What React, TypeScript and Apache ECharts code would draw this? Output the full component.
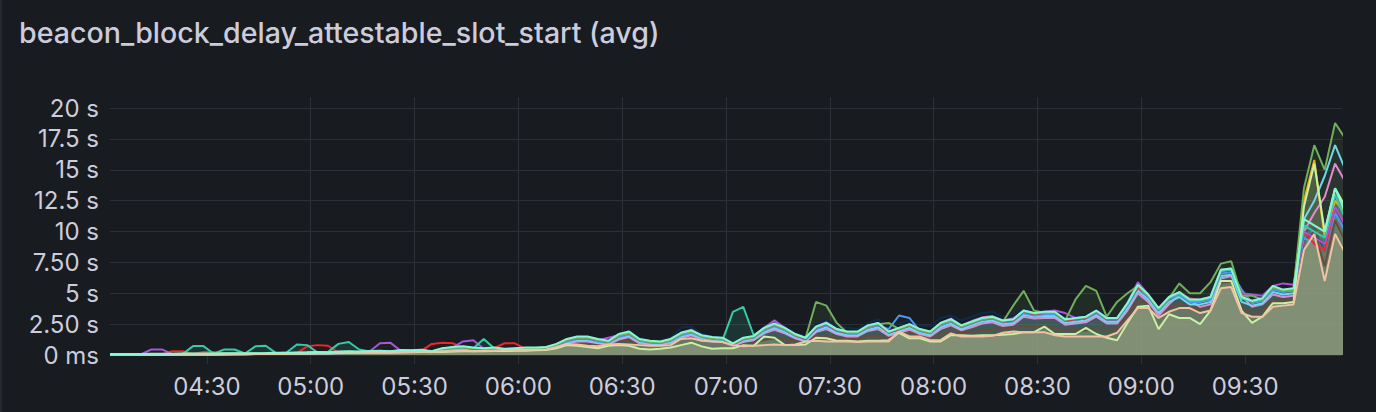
import React, { useEffect, useRef } from 'react';
import * as echarts from 'echarts';

const TITLE = 'beacon_block_delay_attestable_slot_start (avg)';
const START_TIME = '04:02';
const END_TIME = '09:58';
const STEP_MINUTES = 3;
const xTickLabels = ['04:30', '05:00', '05:30', '06:00', '06:30', '07:00', '07:30', '08:00', '08:30', '09:00', '09:30'];
const yTickValues = [0, 2.5, 5, 7.5, 10, 12.5, 15, 17.5, 20];
const yTickLabels = ['0 ms', '2.50 s', '5 s', '7.50 s', '10 s', '12.5 s', '15 s', '17.5 s', '20 s'];
const Y_MAX = 20.9;

const mint = [
  0.08, 0.08, 0.08, 0.08, 0.10, 0.10, 0.10, 0.12, 0.12, 0.12,
  0.12, 0.14, 0.14, 0.15, 0.15, 0.16, 0.18, 0.18, 0.20, 0.22,
  0.25, 0.22, 0.28, 0.30, 0.28, 0.32, 0.35, 0.30, 0.40, 0.38,
  0.42, 0.30, 0.55, 0.65, 0.70, 0.60, 0.55, 0.60, 0.50, 0.55,
  0.60, 0.60, 0.65, 0.90, 1.30, 1.50, 1.50, 1.30, 1.15, 1.70,
  1.90, 1.30, 1.15, 1.10, 1.30, 1.80, 2.00, 1.60, 1.45, 1.40,
  0.95, 1.40, 1.55, 2.20, 2.55, 2.20, 1.70, 1.40, 2.30, 2.60,
  2.10, 1.90, 1.90, 2.40, 2.60, 1.90, 2.20, 2.50, 2.10, 1.90,
  2.60, 2.90, 2.40, 2.70, 3.00, 3.10, 2.80, 2.90, 3.60, 3.40,
  3.50, 3.50, 2.90, 3.00, 3.10, 3.60, 3.00, 3.00, 4.20, 5.70,
  4.90, 3.80, 4.70, 5.10, 4.50, 4.50, 4.70, 6.90, 7.00, 4.70,
  4.40, 4.60, 5.60, 5.30, 5.40, 11.0, 10.5, 10.0, 13.5, 11.5,
];

const peach = [
  0.02, 0.02, 0.02, 0.02, 0.03, 0.03, 0.03, 0.04, 0.04, 0.04,
  0.05, 0.05, 0.06, 0.06, 0.08, 0.08, 0.10, 0.10, 0.12, 0.12,
  0.15, 0.15, 0.18, 0.20, 0.20, 0.22, 0.25, 0.20, 0.25, 0.25,
  0.28, 0.25, 0.30, 0.30, 0.35, 0.30, 0.35, 0.35, 0.40, 0.40,
  0.40, 0.42, 0.45, 0.65, 0.90, 0.85, 0.75, 0.70, 0.85, 0.90,
  0.85, 0.80, 0.75, 0.75, 0.80, 1.30, 1.35, 1.15, 1.10, 1.05,
  0.80, 0.70, 0.75, 0.80, 0.85, 0.80, 0.85, 1.10, 1.15, 1.10,
  1.10, 1.10, 1.05, 1.10, 1.10, 1.10, 1.90, 1.50, 1.50, 1.20,
  1.20, 1.75, 1.50, 1.50, 1.50, 1.55, 1.80, 1.90, 1.85, 1.85,
  1.85, 1.60, 1.50, 1.50, 1.50, 1.50, 1.50, 1.80, 2.80, 3.80,
  3.80, 3.00, 3.50, 3.80, 3.80, 3.40, 3.60, 5.40, 5.50, 3.40,
  3.10, 3.10, 3.90, 4.00, 4.10, 8.50, 9.80, 6.00, 9.80, 8.20,
];

const lightGreen = [
  0.02, 0.02, 0.02, 0.03, 0.03, 0.03, 0.04, 0.04, 0.05, 0.05,
  0.05, 0.06, 0.06, 0.07, 0.08, 0.08, 0.10, 0.10, 0.12, 0.12,
  0.14, 0.15, 0.16, 0.18, 0.20, 0.20, 0.22, 0.20, 0.20, 0.22,
  0.25, 0.25, 0.25, 0.28, 0.30, 0.30, 0.30, 0.32, 0.32, 0.35,
  0.35, 0.38, 0.40, 0.55, 0.80, 0.75, 0.65, 0.55, 0.75, 0.80,
  0.75, 0.50, 0.45, 0.50, 0.60, 0.80, 1.00, 0.70, 0.50, 0.55,
  0.55, 0.80, 0.75, 1.50, 1.40, 0.80, 0.80, 0.85, 1.40, 1.35,
  1.15, 1.15, 1.10, 1.15, 1.15, 1.20, 1.80, 1.35, 1.35, 1.10,
  1.10, 1.60, 1.60, 1.55, 1.60, 1.60, 1.65, 1.70, 1.85, 1.85,
  2.30, 1.70, 1.70, 1.70, 2.20, 1.70, 1.40, 1.20, 2.60, 3.90,
  4.00, 2.10, 3.30, 3.00, 3.00, 2.50, 3.60, 6.00, 6.00, 3.60,
  2.60, 3.10, 4.20, 4.20, 4.30, 12.0, 15.5, 10.0, 13.5, 12.0,
];

const green = [
  0.06, 0.06, 0.07, 0.07, 0.08, 0.08, 0.09, 0.10, 0.10, 0.10,
  0.11, 0.12, 0.12, 0.13, 0.14, 0.14, 0.15, 0.16, 0.18, 0.20,
  0.22, 0.20, 0.24, 0.26, 0.25, 0.28, 0.30, 0.28, 0.35, 0.34,
  0.38, 0.28, 0.50, 0.60, 0.62, 0.55, 0.50, 0.55, 0.45, 0.50,
  0.55, 0.55, 0.60, 0.85, 1.20, 1.40, 1.40, 1.20, 1.05, 1.55,
  1.75, 1.20, 1.05, 1.00, 1.20, 1.70, 1.90, 1.50, 1.35, 1.30,
  0.90, 1.30, 1.45, 2.10, 2.45, 2.10, 1.60, 1.40, 4.30, 4.00,
  2.60, 1.80, 1.80, 2.30, 2.50, 2.60, 2.10, 2.40, 2.00, 1.80,
  2.50, 2.80, 2.30, 2.60, 2.90, 3.00, 2.70, 4.00, 5.20, 3.60,
  3.40, 3.40, 2.80, 4.50, 5.60, 5.20, 3.10, 4.30, 5.00, 5.60,
  4.80, 3.70, 4.60, 5.80, 5.00, 5.00, 5.90, 7.40, 7.60, 4.80,
  4.80, 4.50, 5.50, 5.20, 5.30, 13.5, 17.0, 15.0, 18.8, 17.5,
];

const teal = [
  0.05, 0.05, 0.05, 0.06, 0.06, 0.06, 0.07, 0.08, 0.72, 0.72,
  0.10, 0.45, 0.45, 0.12, 0.70, 0.75, 0.15, 0.20, 0.85, 0.80,
  0.20, 0.25, 0.90, 1.05, 0.45, 0.28, 0.30, 0.28, 0.35, 0.34,
  0.38, 0.28, 0.50, 0.60, 0.62, 0.55, 1.30, 0.55, 0.45, 0.50,
  0.55, 0.55, 0.60, 0.85, 1.25, 1.45, 1.45, 1.25, 1.10, 1.65,
  1.85, 1.25, 1.10, 1.05, 1.25, 1.75, 1.95, 1.55, 1.40, 1.20,
  3.50, 3.90, 1.60, 2.15, 2.50, 2.15, 1.65, 1.35, 2.25, 2.55,
  2.05, 1.85, 1.85, 2.35, 2.55, 1.85, 2.15, 2.45, 2.05, 1.85,
  2.55, 2.85, 2.35, 2.65, 2.95, 3.05, 2.75, 2.85, 3.55, 3.35,
  3.45, 3.45, 2.85, 2.95, 3.05, 3.55, 2.95, 2.95, 4.10, 5.60,
  4.80, 3.70, 4.60, 5.00, 4.40, 4.40, 4.60, 6.80, 6.90, 4.60,
  4.30, 4.50, 5.50, 5.20, 5.30, 10.5, 10.0, 9.5, 13.0, 11.0,
];

const purple = [
  0.05, 0.05, 0.05, 0.06, 0.45, 0.45, 0.07, 0.08, 0.08, 0.09,
  0.10, 0.10, 0.11, 0.12, 0.12, 0.13, 0.14, 0.15, 0.16, 0.18,
  0.20, 0.20, 0.22, 0.25, 0.25, 0.28, 0.95, 1.00, 0.35, 0.34,
  0.38, 0.28, 0.50, 0.60, 1.10, 1.20, 0.50, 0.55, 0.45, 0.50,
  0.55, 0.55, 0.60, 0.80, 1.20, 1.40, 1.40, 1.20, 1.40, 1.60,
  1.80, 1.25, 1.10, 1.05, 1.25, 1.80, 2.05, 1.55, 1.40, 1.30,
  0.90, 1.35, 1.50, 2.20, 2.80, 2.20, 1.65, 1.35, 2.30, 2.65,
  2.10, 1.85, 1.85, 2.40, 2.60, 1.85, 2.20, 2.50, 2.10, 1.85,
  2.60, 2.95, 2.40, 2.75, 3.05, 3.15, 2.80, 2.95, 3.60, 3.40,
  3.50, 3.60, 3.40, 3.00, 3.10, 3.60, 3.00, 3.00, 4.20, 5.90,
  4.90, 3.80, 4.70, 5.10, 4.50, 4.50, 4.70, 6.90, 7.00, 5.00,
  4.90, 4.80, 5.60, 5.80, 5.70, 10.0, 9.5, 9.0, 12.0, 10.5,
];

const red = [
  0.04, 0.04, 0.05, 0.05, 0.06, 0.06, 0.30, 0.30, 0.08, 0.25,
  0.25, 0.10, 0.11, 0.12, 0.12, 0.13, 0.14, 0.15, 0.16, 0.70,
  0.80, 0.75, 0.22, 0.25, 0.25, 0.28, 0.30, 0.28, 0.30, 0.32,
  0.35, 0.90, 1.00, 0.95, 0.60, 0.50, 0.50, 0.55, 0.95, 0.95,
  0.50, 0.50, 0.55, 0.80, 1.20, 1.35, 1.35, 1.20, 1.05, 1.55,
  1.75, 1.20, 1.05, 1.00, 1.20, 1.75, 1.95, 1.50, 1.35, 1.25,
  0.85, 1.30, 1.45, 2.10, 2.45, 2.10, 1.60, 1.30, 2.20, 2.50,
  2.00, 1.80, 1.80, 2.30, 2.50, 1.80, 2.10, 2.40, 2.00, 1.80,
  2.50, 2.80, 2.30, 2.60, 2.90, 3.00, 2.70, 2.80, 3.50, 3.30,
  3.40, 3.40, 2.80, 2.90, 3.00, 3.50, 2.90, 2.90, 4.10, 5.50,
  4.80, 3.70, 4.60, 5.00, 4.60, 4.40, 4.60, 6.80, 6.90, 4.90,
  4.30, 4.50, 5.50, 5.20, 5.30, 10.0, 9.0, 8.5, 12.0, 10.5,
];

const blue = [
  0.04, 0.04, 0.04, 0.05, 0.05, 0.05, 0.06, 0.06, 0.07, 0.07,
  0.08, 0.08, 0.09, 0.10, 0.10, 0.11, 0.12, 0.12, 0.14, 0.15,
  0.18, 0.16, 0.20, 0.22, 0.22, 0.25, 0.28, 0.25, 0.32, 0.30,
  0.34, 0.26, 0.45, 0.55, 0.58, 0.50, 0.45, 0.50, 0.42, 0.45,
  0.50, 0.50, 0.55, 0.75, 1.10, 1.30, 1.30, 1.10, 1.00, 1.45,
  1.65, 1.15, 1.00, 0.95, 1.15, 1.60, 1.80, 1.45, 1.30, 1.20,
  0.85, 1.25, 1.40, 2.00, 2.35, 2.00, 1.55, 1.25, 2.10, 2.40,
  1.95, 1.75, 1.75, 2.20, 2.40, 2.10, 3.20, 3.00, 1.95, 1.75,
  2.40, 2.70, 2.25, 2.55, 2.85, 2.95, 2.65, 2.75, 3.40, 3.20,
  3.30, 3.30, 2.75, 2.85, 2.95, 3.40, 2.85, 2.85, 4.00, 5.40,
  4.70, 3.60, 4.50, 4.90, 4.30, 4.30, 4.50, 6.60, 6.70, 5.30,
  4.20, 4.40, 5.30, 5.10, 5.20, 9.5, 9.0, 8.5, 11.5, 10.0,
];

const sky = [
  0.03, 0.03, 0.04, 0.04, 0.04, 0.05, 0.05, 0.05, 0.06, 0.06,
  0.07, 0.07, 0.08, 0.08, 0.09, 0.10, 0.10, 0.11, 0.12, 0.13,
  0.15, 0.14, 0.17, 0.19, 0.19, 0.21, 0.24, 0.22, 0.28, 0.27,
  0.30, 0.24, 0.40, 0.50, 0.54, 0.46, 0.42, 0.46, 0.40, 0.42,
  0.46, 0.46, 0.50, 0.70, 1.00, 1.20, 1.20, 1.00, 0.92, 1.35,
  1.55, 1.05, 0.92, 0.88, 1.05, 1.50, 1.70, 1.35, 1.20, 1.12,
  0.80, 1.15, 1.30, 1.85, 2.20, 1.85, 1.45, 1.15, 1.95, 2.25,
  1.80, 1.60, 1.60, 2.05, 2.25, 1.65, 1.90, 2.20, 1.80, 1.60,
  2.25, 2.55, 2.10, 2.40, 2.70, 2.80, 2.50, 2.60, 3.25, 3.10,
  3.15, 3.15, 2.60, 2.70, 2.80, 3.25, 2.70, 2.70, 3.80, 5.20,
  4.50, 3.40, 4.30, 4.70, 4.10, 4.10, 4.30, 6.40, 6.50, 4.30,
  4.00, 4.20, 5.10, 4.90, 5.00, 11.0, 12.5, 14.5, 17.0, 15.0,
];

const pink = [
  0.03, 0.03, 0.03, 0.03, 0.04, 0.04, 0.04, 0.05, 0.05, 0.05,
  0.06, 0.06, 0.07, 0.07, 0.08, 0.08, 0.09, 0.10, 0.11, 0.12,
  0.13, 0.12, 0.15, 0.17, 0.17, 0.19, 0.21, 0.19, 0.25, 0.24,
  0.27, 0.22, 0.36, 0.45, 0.50, 0.42, 0.38, 0.42, 0.36, 0.38,
  0.42, 0.42, 0.46, 0.65, 0.95, 1.10, 1.10, 0.95, 0.85, 1.25,
  1.45, 0.95, 0.85, 0.82, 0.95, 1.40, 1.60, 1.25, 1.10, 1.05,
  0.75, 1.05, 1.20, 1.75, 2.05, 1.75, 1.35, 1.10, 1.85, 2.10,
  1.70, 1.50, 1.50, 1.95, 2.10, 1.55, 1.80, 2.05, 1.70, 1.50,
  2.10, 2.40, 2.00, 2.25, 2.55, 2.65, 2.35, 2.45, 3.10, 2.95,
  3.00, 3.00, 2.45, 2.55, 2.65, 3.10, 2.55, 2.55, 3.60, 5.00,
  4.30, 3.20, 4.10, 4.90, 4.40, 3.90, 4.10, 6.20, 6.40, 4.80,
  3.90, 4.10, 4.90, 4.70, 4.80, 10.0, 11.5, 12.8, 15.5, 14.0,
];

const yellow = [
  0.03, 0.03, 0.03, 0.03, 0.04, 0.04, 0.04, 0.05, 0.05, 0.05,
  0.05, 0.07, 0.07, 0.08, 0.08, 0.09, 0.11, 0.11, 0.13, 0.15,
  0.18, 0.15, 0.21, 0.23, 0.21, 0.25, 0.28, 0.23, 0.33, 0.31,
  0.35, 0.23, 0.48, 0.58, 0.63, 0.53, 0.48, 0.53, 0.43, 0.48,
  0.53, 0.53, 0.58, 0.83, 1.22, 1.42, 1.42, 1.22, 1.07, 1.62,
  1.82, 1.22, 1.07, 1.02, 1.22, 1.72, 1.92, 1.52, 1.37, 1.32,
  0.87, 1.32, 1.47, 2.12, 2.47, 2.12, 1.62, 1.32, 2.22, 2.52,
  2.02, 1.82, 1.82, 2.32, 2.52, 1.82, 2.12, 2.42, 2.02, 1.82,
  2.52, 2.82, 2.32, 2.62, 2.92, 3.02, 2.72, 2.82, 3.52, 3.32,
  3.42, 3.42, 2.82, 2.92, 3.02, 3.52, 2.92, 2.92, 4.12, 5.62,
  4.82, 3.72, 4.62, 5.02, 4.42, 4.42, 4.62, 6.82, 6.92, 4.62,
  4.32, 4.52, 5.52, 5.22, 5.32, 12.5, 15.8, 9.5, 12.5, 11.5,
];

const navy = [
  0.07, 0.07, 0.07, 0.07, 0.09, 0.09, 0.09, 0.11, 0.11, 0.11,
  0.11, 0.13, 0.13, 0.14, 0.14, 0.15, 0.17, 0.17, 0.19, 0.21,
  0.24, 0.21, 0.27, 0.29, 0.27, 0.31, 0.34, 0.29, 0.39, 0.37,
  0.41, 0.29, 0.54, 0.64, 0.69, 0.59, 0.54, 0.59, 0.49, 0.54,
  0.59, 0.59, 0.64, 0.89, 1.28, 1.48, 1.48, 1.28, 1.14, 1.75,
  1.95, 1.35, 1.20, 1.15, 1.40, 2.20, 2.30, 1.75, 1.50, 1.40,
  0.95, 1.45, 1.60, 2.30, 2.60, 2.30, 1.80, 1.50, 2.50, 2.80,
  2.40, 2.20, 2.10, 2.60, 2.90, 2.20, 2.60, 2.80, 2.40, 2.30,
  3.00, 3.20, 2.80, 3.10, 3.40, 3.50, 3.10, 3.20, 3.70, 3.50,
  3.60, 3.60, 3.00, 3.10, 3.20, 3.70, 3.10, 3.10, 4.20, 5.60,
  4.80, 3.70, 4.60, 5.00, 4.40, 4.40, 4.60, 6.80, 6.90, 4.60,
  4.30, 4.50, 5.50, 5.20, 5.30, 10.0, 9.5, 9.0, 12.0, 10.5,
];

const slate = [
  0.05, 0.05, 0.05, 0.06, 0.07, 0.07, 0.07, 0.09, 0.09, 0.09,
  0.09, 0.10, 0.11, 0.11, 0.12, 0.13, 0.15, 0.15, 0.17, 0.18,
  0.21, 0.19, 0.24, 0.26, 0.25, 0.28, 0.31, 0.26, 0.34, 0.33,
  0.36, 0.28, 0.45, 0.51, 0.56, 0.48, 0.47, 0.50, 0.46, 0.49,
  0.52, 0.53, 0.57, 0.80, 1.14, 1.24, 1.20, 1.06, 1.03, 1.38,
  1.48, 1.10, 0.99, 0.96, 1.10, 1.60, 1.74, 1.42, 1.31, 1.26,
  0.89, 1.12, 1.23, 1.64, 1.87, 1.64, 1.36, 1.28, 1.84, 2.00,
  1.70, 1.58, 1.56, 1.88, 2.00, 1.58, 2.08, 2.10, 1.86, 1.62,
  2.04, 2.44, 2.04, 2.22, 2.40, 2.48, 2.40, 2.50, 2.90, 2.78,
  2.84, 2.74, 2.34, 2.40, 2.46, 2.76, 2.40, 2.52, 3.64, 4.94,
  4.46, 3.48, 4.22, 4.58, 4.22, 4.06, 4.26, 6.30, 6.40, 4.18,
  3.88, 4.00, 4.92, 4.78, 4.88, 10.0, 10.2, 8.4, 12.0, 10.2,
];

const brown = [
  0.04, 0.04, 0.04, 0.04, 0.05, 0.05, 0.05, 0.06, 0.06, 0.06,
  0.07, 0.08, 0.08, 0.09, 0.10, 0.10, 0.12, 0.12, 0.14, 0.15,
  0.18, 0.17, 0.21, 0.23, 0.22, 0.25, 0.28, 0.23, 0.30, 0.29,
  0.32, 0.27, 0.38, 0.41, 0.46, 0.39, 0.41, 0.43, 0.43, 0.45,
  0.46, 0.47, 0.51, 0.72, 1.02, 1.05, 0.98, 0.88, 0.94, 1.14,
  1.17, 0.95, 0.87, 0.86, 0.95, 1.45, 1.55, 1.29, 1.21, 1.16,
  0.85, 0.91, 0.99, 1.22, 1.36, 1.22, 1.11, 1.19, 1.50, 1.55,
  1.40, 1.34, 1.31, 1.49, 1.55, 1.34, 1.99, 1.80, 1.68, 1.41,
  1.62, 2.10, 1.77, 1.86, 1.95, 2.02, 2.10, 2.20, 2.38, 2.32,
  2.35, 2.17, 1.92, 1.95, 1.98, 2.13, 1.95, 2.16, 3.22, 4.37,
  4.13, 3.24, 3.86, 4.19, 4.01, 3.73, 3.93, 5.85, 5.95, 3.79,
  3.49, 3.55, 4.41, 4.39, 4.49, 9.25, 10.0, 7.2, 10.9, 9.2,
];

const seriesDefs = [
  { name: 'brown', data: brown, color: '#6b4a3f', fill: 0.1 },
  { name: 'slate', data: slate, color: '#3f5a66', fill: 0.1 },
  { name: 'navy', data: navy, color: '#0f2a47', fill: 0.1 },
  { name: 'yellow', data: yellow, color: '#E5AC0E', fill: 0.035 },
  { name: 'pink', data: pink, color: '#E08BD6', fill: 0.035 },
  { name: 'sky', data: sky, color: '#73D6EE', fill: 0.035 },
  { name: 'blue', data: blue, color: '#4E96F0', fill: 0.035 },
  { name: 'red', data: red, color: '#F2242C', fill: 0.035 },
  { name: 'purple', data: purple, color: '#A557D8', fill: 0.035 },
  { name: 'teal', data: teal, color: '#38C9A6', fill: 0.15 },
  { name: 'green', data: green, color: '#6FAE5A', fill: 0.12 },
  { name: 'lightGreen', data: lightGreen, color: '#C9F0A4', fill: 0.23 },
  { name: 'peach', data: peach, color: '#F4C1A2', fill: 0.23 },
  { name: 'mint', data: mint, color: '#85F7D4', fill: 0.045 },
];

const TEXT = '#ccccdc';
const GRID = '#2c2f35';
const FONT = 'Inter, "Noto Sans", sans-serif';

const toMinutes = (s: string) => {
  const [h, m] = s.split(':').map(Number);
  return h * 60 + m;
};
const pad = (n: number) => (n < 10 ? '0' + n : '' + n);
const fmtMinutes = (v: number) => pad(Math.floor(v / 60)) + ':' + pad(Math.round(v % 60));

export default function App() {
  const ref = useRef<HTMLDivElement>(null);

  useEffect(() => {
    if (!ref.current) return;
    const chart = echarts.init(ref.current, null, { renderer: 'svg' });
    const start = toMinutes(START_TIME);
    const end = toMinutes(END_TIME);
    const times = mint.map((_, i) => start + i * STEP_MINUTES);
    const xTicks = xTickLabels.map(toMinutes);

    chart.setOption({
      animation: false,
      backgroundColor: 'transparent',
      title: {
        text: TITLE,
        left: 12,
        top: 13,
        textStyle: { color: TEXT, fontSize: 28.6, fontWeight: 500, fontFamily: FONT },
      },
      grid: { left: 108, right: 34, top: 97, bottom: 57, outerBoundsMode: 'none' },
      xAxis: {
        type: 'value',
        min: start,
        max: end,
        axisLine: { show: false },
        axisTick: { show: true, length: 9, lineStyle: { color: GRID }, customValues: xTicks },
        axisLabel: {
          customValues: xTicks,
          color: TEXT,
          fontSize: 24,
          fontFamily: FONT,
          margin: 19,
          formatter: (v: number) => fmtMinutes(v),
        },
        splitLine: { show: true, showMinLine: false, showMaxLine: false, lineStyle: { color: GRID, width: 1 } },
      },
      yAxis: {
        type: 'value',
        min: 0,
        max: Y_MAX,
        interval: 2.5,
        axisLine: { show: false },
        axisTick: { show: false, customValues: yTickValues },
        axisLabel: {
          customValues: yTickValues,
          color: TEXT,
          fontSize: 24,
          fontFamily: FONT,
          margin: 11,
          formatter: (v: number) => {
            const idx = yTickValues.indexOf(v);
            return idx >= 0 ? yTickLabels[idx] : '';
          },
        },
        splitLine: { show: true, lineStyle: { color: GRID, width: 1 } },
      },
      series: seriesDefs.map((s) => ({
        name: s.name,
        type: 'line',
        data: s.data.map((v, i) => [times[i], v]),
        symbol: 'none',
        showSymbol: false,
        silent: true,
        clip: true,
        emphasis: { disabled: true },
        lineStyle: { color: s.color, width: 2 },
        itemStyle: { color: s.color },
        areaStyle: { color: s.color, opacity: s.fill },
      })),
    });

    return () => chart.dispose();
  }, []);

  return (
    <div
      style={{
        position: 'fixed',
        left: 0,
        top: 0,
        width: 1376,
        height: 412,
        background: '#181b1f',
        boxSizing: 'border-box',
        borderLeft: '2px solid #262930',
      }}
    >
      <div ref={ref} style={{ width: 1374, height: 412 }} />
    </div>
  );
}
